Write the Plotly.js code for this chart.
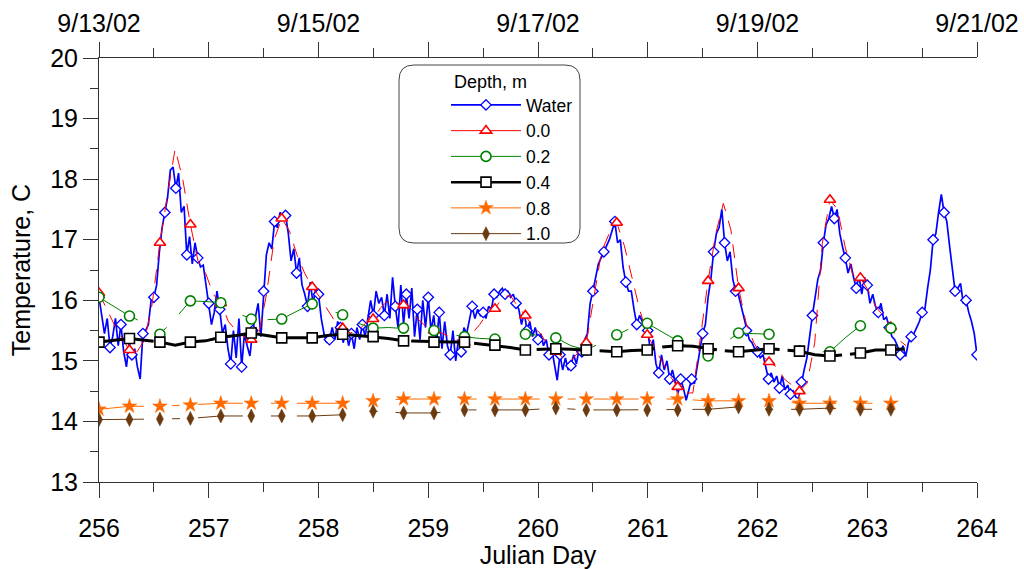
<!DOCTYPE html>
<html>
<head>
<meta charset="utf-8">
<script src="https://cdn.plot.ly/plotly-3.0.1.min.js"></script>
<style>html,body{margin:0;padding:0;background:#fff;}#chart{width:1024px;height:569px;}</style>
</head>
<body>
<div id="chart"></div>
<script>
// ---- Data ----
// Water temperature, sampled every 0.025 day from day 256
const waterStart = 256;
const waterStep = 0.025;
const waterTemp = [
16.05,15.75,15.45,15.70,15.22,15.40,15.70,15.25,15.60,15.15,14.90,15.30,15.10,15.20,14.90,14.70,15.45,15.50,15.60,16.00,
16.05,16.25,16.80,17.20,17.45,17.70,18.15,18.20,17.85,18.10,17.45,17.55,16.75,17.05,16.60,16.95,16.70,16.55,16.58,16.25,
15.95,15.60,15.80,16.15,15.85,15.45,15.60,15.20,14.95,15.50,15.05,15.70,14.90,15.45,15.25,15.08,15.50,15.75,15.95,15.40,
16.15,16.75,16.95,16.85,17.30,17.20,17.45,17.35,17.40,17.10,16.65,16.85,16.45,16.70,16.25,16.10,15.90,16.30,15.95,16.20,
16.10,15.70,15.45,15.30,15.35,15.55,15.35,15.65,15.55,15.30,15.50,15.25,15.45,15.20,15.55,15.35,15.60,15.40,15.70,16.00,
15.75,16.15,15.95,16.05,15.75,16.10,15.70,16.38,15.90,15.55,16.25,15.60,16.10,15.70,16.20,15.40,15.85,15.35,16.00,15.55,
16.05,15.50,15.75,15.30,15.80,15.20,15.65,15.25,15.10,15.50,15.00,15.35,15.15,15.55,15.45,15.65,15.90,15.70,15.85,15.75,
15.80,15.70,15.90,15.85,16.10,16.05,16.15,16.20,16.10,16.15,16.05,16.10,15.95,15.85,15.60,15.80,15.50,15.65,15.40,15.55,
15.35,15.45,15.25,15.35,15.10,15.20,14.95,14.68,15.10,14.85,15.05,14.85,14.92,15.10,14.95,15.20,15.15,15.35,15.45,15.95,
16.15,16.40,16.60,16.70,16.80,16.90,17.00,17.15,17.30,16.95,17.00,16.55,16.30,16.15,16.15,15.85,15.60,15.75,15.65,15.60,
15.50,15.15,15.35,14.95,14.80,15.10,14.85,15.00,14.70,14.85,14.65,14.45,14.70,14.55,14.35,14.55,14.70,14.62,14.90,15.20,
15.45,15.60,16.05,16.35,16.80,17.10,17.20,17.50,16.95,16.65,16.80,16.35,16.15,16.10,15.90,15.75,15.50,15.35,15.30,15.20,
15.15,15.05,15.10,14.90,14.70,14.80,14.65,14.75,14.55,14.75,14.52,14.60,14.45,14.50,14.40,14.38,14.65,14.85,15.05,15.45,
15.75,16.05,16.35,16.50,16.95,17.25,17.35,17.55,17.35,17.50,17.10,16.88,16.70,16.45,16.60,16.38,16.20,16.40,16.10,16.38,
16.25,15.95,16.10,15.90,15.80,15.95,15.68,15.72,15.55,15.40,15.35,15.25,15.10,15.25,15.07,15.30,15.40,15.45,15.55,15.65,
15.80,15.85,16.20,16.50,17.00,17.10,17.45,17.75,17.45,17.30,16.90,16.55,16.15,16.20,16.28,15.95,16.00,15.80,15.65,15.45,
15.10
];

// Sediment probes: marker interval 0.2775 day from day 256
const probeStart = 256;
const probeStep = 0.2775;

// Depth 0.0 m, sampled every probeStep/4
const depth00 = [
16.12,15.85,15.60,15.38,15.18,15.15,15.35,15.95,16.95,17.75,
18.50,18.00,17.25,16.65,16.45,16.10,15.95,15.65,15.50,15.40,
15.35,15.45,16.10,17.00,17.35,17.15,16.75,16.45,16.22,16.05,
15.84,15.65,15.54,15.46,15.50,15.62,15.69,15.88,16.00,15.95,
15.92,15.80,15.67,15.56,15.50,15.46,15.40,15.35,15.30,15.45,
15.60,15.78,15.86,16.05,16.08,15.90,15.75,15.56,15.45,15.25,
15.15,15.05,15.00,15.15,15.30,16.05,16.80,17.10,17.28,16.90,
16.35,15.85,15.43,15.20,14.98,14.75,14.57,14.47,14.47,15.40,
16.32,17.10,17.60,17.16,16.20,15.62,15.30,15.10,14.98,14.90,
14.70,14.60,14.50,14.63,15.30,16.94,17.66,17.50,16.88,16.42,
16.37,16.17,15.90,15.74,15.56,15.35,15.25
];

// Depth 0.2 m, sampled every probeStep/2
const depth02 = [
16.05,15.90,15.74,15.62,15.44,15.70,15.99,15.98,15.96,15.80,
15.69,15.68,15.69,15.82,15.94,15.85,15.76,15.62,15.54,15.55,
15.54,15.52,15.50,15.44,15.40,15.37,15.36,15.41,15.44,15.42,
15.38,15.25,15.18,15.30,15.43,15.55,15.62,15.48,15.33,15.18,
15.08,15.28,15.46,15.45,15.44,15.30,15.16,15.15,15.15,15.38,
15.58,15.56,15.54,15.44
];

// Depth 0.4 m, sampled every probeStep/2
const depth04 = [
15.31,15.34,15.37,15.34,15.31,15.26,15.31,15.33,15.39,15.42,
15.46,15.42,15.38,15.38,15.38,15.42,15.44,15.42,15.40,15.37,
15.33,15.32,15.31,15.31,15.31,15.28,15.26,15.22,15.18,15.19,
15.20,15.19,15.18,15.16,15.15,15.17,15.18,15.23,15.25,15.24,
15.20,15.17,15.15,15.18,15.20,15.18,15.16,15.10,15.08,15.10,
15.13,15.18,15.18,15.20
];

// Depth 0.8 m and 1.0 m, sampled every probeStep
const depth08 = [14.20,14.25,14.25,14.27,14.30,14.30,14.30,14.30,14.30,14.34,14.37,14.37,14.37,14.37,
                 14.37,14.37,14.37,14.37,14.37,14.37,14.34,14.34,14.34,14.30,14.30,14.30,14.30];
const depth10 = [14.03,14.03,14.04,14.05,14.09,14.09,14.09,14.09,14.11,14.17,14.14,14.14,14.19,14.19,
                 14.19,14.22,14.19,14.19,14.19,14.19,14.20,14.24,14.20,14.20,14.22,14.20,14.20];

const seriesNames = ['Water', '0.0', '0.2', '0.4', '0.8', '1.0'];
const julianTicks = [256, 257, 258, 259, 260, 261, 262, 263, 264];
const dateLabels = ['9/13/02', '', '9/15/02', '', '9/17/02', '', '9/19/02', '', '9/21/02'];

// ---- Build traces ----
function sampleDays(start, step, n) {
  return Array.from({length: n}, (_, i) => +(start + i * step).toFixed(5));
}
function markerSizes(n, every, size) {
  return Array.from({length: n}, (_, i) => (i % every === 0 ? size : 0));
}

const FONT = 'Liberation Sans, Arial, Helvetica, sans-serif';

const styles = [
  {color: '#0000ff', width: 1.7, dash: 'solid', symbol: 'diamond', msize: 8, mfill: '#ffffff', mline: 1.3},
  {color: '#ff0000', width: 1, dash: '14px,10px', symbol: 'triangle-up', msize: 10, mfill: '#ffffff', mline: 1.6},
  {color: '#008000', width: 1, dash: '45px,28px,8px,18px', symbol: 'circle', msize: 10, mfill: '#ffffff', mline: 1.6},
  {color: '#000000', width: 3, dash: '55px,8px', symbol: 'square', msize: 10, mfill: '#ffffff', mline: 1.6},
  {color: '#ff6a00', width: 1, dash: '45px,28px,8px,18px', symbol: 'star', msize: 11, mfill: '#ff6a00', mline: 0.5},
  {color: '#6b3a0e', width: 1, dash: '45px,28px,8px,18px', symbol: 'diamond-tall', msize: 10, mfill: '#6b3a0e', mline: 0.5}
];

const dataSets = [
  {x: sampleDays(waterStart, waterStep, waterTemp.length), y: waterTemp, every: 4},
  {x: sampleDays(probeStart, probeStep / 4, depth00.length), y: depth00, every: 4},
  {x: sampleDays(probeStart, probeStep / 2, depth02.length), y: depth02, every: 2},
  {x: sampleDays(probeStart, probeStep / 2, depth04.length), y: depth04, every: 2},
  {x: sampleDays(probeStart, probeStep, depth08.length), y: depth08, every: 1},
  {x: sampleDays(probeStart, probeStep, depth10.length), y: depth10, every: 1}
];

const traces = [];
dataSets.forEach((d, k) => {
  const s = styles[k];
  traces.push({
    type: 'scatter', mode: 'lines+markers', x: d.x, y: d.y, name: seriesNames[k],
    showlegend: false, hoverinfo: 'skip',
    line: {color: s.color, width: s.width, dash: s.dash},
    marker: {symbol: s.symbol, size: markerSizes(d.y.length, d.every, s.msize), color: s.mfill,
             opacity: 1, line: {color: s.color, width: s.mline}}
  });
});
// legend entries (no data; also keep the top date axis alive)
dataSets.forEach((d, k) => {
  const s = styles[k];
  traces.push({
    type: 'scatter', mode: 'lines+markers', x: [null], y: [null], name: seriesNames[k],
    xaxis: 'x2', yaxis: 'y',
    showlegend: true, hoverinfo: 'skip',
    line: {color: s.color, width: Math.min(s.width, 2.5), dash: 'solid'},
    marker: {symbol: s.symbol, size: s.msize, color: s.mfill, opacity: 1, line: {color: s.color, width: s.mline}}
  });
});

// plot area in pixels
const L = 99, R = 977, T = 58, B = 482;
const px2x = p => (p - L) / (R - L);
const py2y = p => (B - p) / (B - T);

// rounded legend frame
const bx0 = px2x(399), bx1 = px2x(580), by0 = py2y(65), by1 = py2y(243);
const rx = 15 / (R - L), ry = 15 / (B - T);
const framePath = `M${bx0 + rx},${by0} L${bx1 - rx},${by0} Q${bx1},${by0} ${bx1},${by0 - ry} ` +
  `L${bx1},${by1 + ry} Q${bx1},${by1} ${bx1 - rx},${by1} L${bx0 + rx},${by1} Q${bx0},${by1} ${bx0},${by1 + ry} ` +
  `L${bx0},${by0 - ry} Q${bx0},${by0} ${bx0 + rx},${by0} Z`;

const axisColor = '#333333';
const layout = {
  width: 1024, height: 569,
  margin: {l: L, r: 1024 - R, t: T, b: 569 - B, pad: 0},
  paper_bgcolor: '#ffffff', plot_bgcolor: '#ffffff',
  font: {family: FONT, size: 25, color: '#000000'},
  showlegend: true,
  xaxis: {
    range: [256, 264], tickmode: 'array', tickvals: julianTicks,
    ticks: 'outside', ticklen: 15, tickwidth: 1, tickcolor: axisColor,
    showline: true, linecolor: axisColor, linewidth: 1,
    showgrid: false, zeroline: false, tickfont: {size: 25}, ticklabelstandoff: 9,
    minor: {ticks: 'outside', ticklen: 9, dtick: 0.5, tick0: 256, tickcolor: axisColor, tickwidth: 1, showgrid: false},
    title: {text: 'Julian Day', font: {size: 25}, standoff: 4}
  },
  xaxis2: {
    overlaying: 'x', side: 'top', anchor: 'y', range: [256, 264],
    tickmode: 'array', tickvals: julianTicks, ticktext: dateLabels,
    ticks: 'outside', ticklen: 15, tickwidth: 1, tickcolor: axisColor,
    showline: true, linecolor: axisColor, linewidth: 1,
    showgrid: false, zeroline: false, tickfont: {size: 25},
    minor: {ticks: 'outside', ticklen: 9, dtick: 0.5, tick0: 256, tickcolor: axisColor, tickwidth: 1, showgrid: false}
  },
  yaxis: {
    range: [13, 20], tickmode: 'linear', tick0: 13, dtick: 1,
    ticks: 'outside', ticklen: 15, tickwidth: 1, tickcolor: axisColor,
    showline: true, linecolor: axisColor, linewidth: 1,
    showgrid: false, zeroline: false, tickfont: {size: 25},
    minor: {ticks: 'outside', ticklen: 8, dtick: 0.5, tick0: 13, tickcolor: axisColor, tickwidth: 1, showgrid: false},
    title: {text: 'Temperature, C', font: {size: 25}, standoff: 12}
  },
  legend: {
    x: px2x(446), y: py2y(87), xanchor: 'left', yanchor: 'top',
    bgcolor: 'rgba(0,0,0,0)', borderwidth: 0,
    font: {family: FONT, size: 17.5, color: '#000000'},
    itemwidth: 70, traceorder: 'normal'
  },
  shapes: [{
    type: 'path', xref: 'paper', yref: 'paper', path: framePath,
    fillcolor: '#ffffff', line: {color: '#444444', width: 1}, layer: 'above'
  }],
  annotations: [{
    xref: 'paper', yref: 'paper', x: px2x(490), y: py2y(82), xanchor: 'center', yanchor: 'middle',
    text: 'Depth, m', showarrow: false, font: {family: FONT, size: 18, color: '#000000'}
  }]
};

Plotly.newPlot('chart', traces, layout, {displayModeBar: false, staticPlot: true});
</script>
</body>
</html>
